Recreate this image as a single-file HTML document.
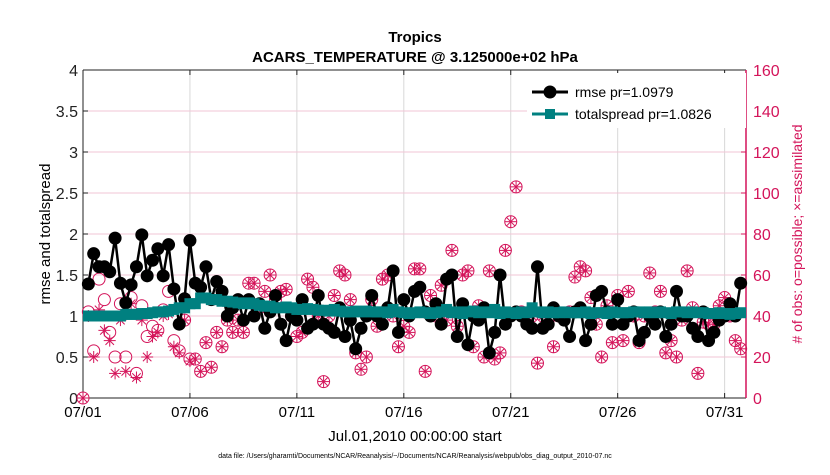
<!DOCTYPE html>
<html><head><meta charset="utf-8"><style>
body{margin:0;background:#fff;font-family:"Liberation Sans",sans-serif}
svg text{font-family:"Liberation Sans",sans-serif}
</style></head><body>
<svg id="chart" width="830" height="470" viewBox="0 0 830 470" xmlns="http://www.w3.org/2000/svg">
<text x="415" y="42" text-anchor="middle" font-size="15" font-weight="bold">Tropics</text>
<text x="415" y="62" text-anchor="middle" font-size="15" font-weight="bold">ACARS_TEMPERATURE @ 3.125000e+02 hPa</text>
<g id="grid"></g>
<g id="axes"></g>
<g id="series"></g>
<text transform="translate(50,234) rotate(-90)" text-anchor="middle" font-size="15">rmse and totalspread</text>
<text transform="translate(802,234) rotate(-90)" text-anchor="middle" font-size="14" fill="#d4145a">#  of obs: o=possible; ×=assimilated</text>
<text x="415" y="441" text-anchor="middle" font-size="15">Jul.01,2010 00:00:00 start</text>
<text x="415" y="458" text-anchor="middle" font-size="7">data file: /Users/gharamti/Documents/NCAR/Reanalysis/~/Documents/NCAR/Reanalysis/webpub/obs_diag_output_2010-07.nc</text>
<g>
<rect x="527" y="73" width="219" height="55" fill="#fff" stroke="none"/>
<line x1="532" y1="92" x2="568" y2="92" stroke="#000" stroke-width="3"/>
<circle cx="550" cy="92" r="6.5" fill="#000"/>
<text x="575" y="97" font-size="14">rmse pr=1.0979</text>
<line x1="532" y1="114" x2="568" y2="114" stroke="#008080" stroke-width="3"/>
<rect x="545" y="109" width="10" height="10" fill="#008080"/>
<text x="575" y="119" font-size="14">totalspread pr=1.0826</text>
</g>
</svg>
<script>
const xTickLabels=["07/01","07/06","07/11","07/16","07/21","07/26","07/31"];
const xTickDays=[0,5,10,15,20,25,30];
const yTicks=[0,0.5,1,1.5,2,2.5,3,3.5,4];
const yTickLabels=["0","0.5","1","1.5","2","2.5","3","3.5","4"];
const y2Ticks=[0,20,40,60,80,100,120,140,160];
const rmse=[NaN,1.39,1.76,1.6,1.6,1.54,1.95,1.4,1.16,1.38,1.6,1.99,1.49,1.68,1.82,1.49,1.87,1.33,0.9,1.21,1.92,1.4,1.35,1.6,1.2,1.42,1.3,1.0,
1.1,1.2,0.95,1.2,1.0,1.15,0.85,1.05,1.25,0.9,0.7,1.0,0.95,1.2,0.85,0.9,1.25,0.9,0.85,0.8,1.1,0.75,0.95,0.6,0.85,1.0,1.25,1.0,
0.9,1.1,1.55,0.8,1.2,1.0,1.3,1.35,1.05,1.0,1.15,0.9,1.45,1.5,0.75,1.15,0.65,1.0,0.95,1.1,0.55,0.8,1.5,0.9,1.0,1.05,1.0,0.9,
0.85,1.6,0.85,0.9,1.1,1.0,0.95,0.75,1.05,1.1,0.7,0.9,1.25,1.3,1.05,0.9,1.2,0.9,1.0,1.05,0.7,0.8,1.0,0.9,1.05,0.75,0.9,1.3,
1.0,1.0,0.85,0.75,1.05,0.7,0.8,0.95,1.0,1.15,1.0,1.4];
const totalspread=[NaN,1.0,1.0,1.0,1.0,1.0,1.0,1.0,1.02,1.02,1.02,1.03,1.03,1.04,1.05,1.05,1.06,1.08,1.1,1.1,
1.15,1.15,1.22,1.22,1.2,1.2,1.18,1.18,
1.17,1.16,1.15,1.16,1.15,1.13,1.12,1.12,1.1,1.1,1.11,1.1,1.08,1.08,1.09,1.08,1.07,1.07,1.06,1.08,1.06,1.05,1.05,1.06,1.05,1.06,1.05,1.05,
1.05,1.04,1.08,1.05,1.04,1.03,1.04,1.05,1.04,1.03,1.04,1.05,1.08,1.04,1.05,1.03,1.05,1.06,1.04,1.05,1.04,1.08,1.03,1.05,1.04,1.03,1.05,1.04,
1.1,1.05,1.04,1.05,1.04,1.04,1.05,1.04,1.04,1.04,1.05,1.03,1.04,1.04,1.03,1.05,1.04,1.04,1.04,1.05,1.05,1.04,1.05,1.04,1.05,1.04,1.03,1.05,
1.05,1.04,1.05,1.04,1.04,1.03,1.03,1.04,1.03,1.02,1.03,1.04];
const possibleObs=[0,42,23,58,48,32,20,46,20,49,12,45,30,35,33,43,52,28,23,38,19,19,13,27,15,32,25,38,32,38,32,56,
56,44,52,60,48,52,53,40,30,32,58,54,40,8,40,50,62,60,48,22,14,20,48,35,
58,60,40,25,35,32,63,63,13,50,40,55,38,72,35,60,62,25,45,20,62,19,22,72,86,103,42,40,
40,17,40,38,25,40,40,42,59,64,62,49,36,20,45,27,50,28,52,40,27,40,61,42,52,22,28,20,
38,62,44,12,37,36,36,45,49,40,28,24];
const assimilatedObs=[0,40,20,43,33,28,12,38,13,46,10,38,20,30,32,40,41,25,22,38,18,19,13,27,15,32,25,38,32,38,32,56,
56,44,52,60,48,52,53,40,30,32,58,54,40,8,40,50,62,60,48,22,14,20,48,35,
58,60,40,25,35,32,63,63,13,50,40,55,38,72,35,60,62,25,45,20,62,19,22,72,86,103,42,40,
40,17,40,38,25,40,40,42,59,64,62,49,36,20,45,27,50,28,52,40,27,40,61,42,52,22,28,20,
38,62,44,12,37,36,36,45,49,40,28,24];

const NS="http://www.w3.org/2000/svg";
const X0=83,X1=746,Y0=398,Y1=70;
const xs=d=>X0+(X1-X0)*d/31;
const ys=v=>Y0-(Y0-Y1)*v/4;
const y2s=v=>Y0-(Y0-Y1)*v/160;
const tOf=i=>i*0.25;
const MAG="#d4145a";
function mk(tag,attrs,parent){const e=document.createElementNS(NS,tag);for(const k in attrs)e.setAttribute(k,attrs[k]);parent.appendChild(e);return e;}
const grid=document.getElementById('grid'),axes=document.getElementById('axes'),ser=document.getElementById('series');
mk('rect',{x:X0,y:Y1,width:X1-X0,height:Y0-Y1,fill:'#fff'},grid);
xTickDays.forEach((d,i)=>{
 const g=mk('line',{x1:xs(d),x2:xs(d),y1:Y1,y2:Y0,stroke:'#d8d8d8','stroke-width':1},grid);
 
 
 mk('line',{x1:xs(d),x2:xs(d),y1:Y0,y2:Y0-5,stroke:'#222'},axes);
 mk('line',{x1:xs(d),x2:xs(d),y1:Y1,y2:Y1+5,stroke:'#222'},axes);
 const t=mk('text',{x:xs(d),y:Y0+19,'text-anchor':'middle','font-size':15},axes);
 t.textContent=xTickLabels[i];
 
 
});
y2Ticks.forEach(v=>{
 if(v>0&&v<160){const g=mk('line',{x1:X0,x2:X1,y1:y2s(v),y2:y2s(v),stroke:'#f2c6d6','stroke-width':1},grid);
 
 }
 mk('line',{x1:X1,x2:X1-5,y1:y2s(v),y2:y2s(v),stroke:MAG},axes);
 const t=mk('text',{x:X1+7,y:y2s(v)+6,'font-size':16,fill:MAG},axes);
 t.textContent=String(v);
 
 
});
yTicks.forEach((v,i)=>{
 mk('line',{x1:X0,x2:X0+5,y1:ys(v),y2:ys(v),stroke:'#222'},axes);
 const t=mk('text',{x:X0-5,y:ys(v)+6,'text-anchor':'end','font-size':16,fill:'#222'},axes);
 t.textContent=yTickLabels[i];
 
 
});
mk('line',{x1:X0,x2:X0,y1:Y1,y2:Y0,stroke:'#222'},axes);
mk('line',{x1:X0,x2:X1,y1:Y0,y2:Y0,stroke:'#222'},axes);
mk('line',{x1:X0,x2:X1,y1:Y1,y2:Y1,stroke:'#222'},axes);
mk('line',{x1:X1,x2:X1,y1:Y1,y2:Y0,stroke:MAG,'stroke-width':1.5},axes);

function path(arr,sc){let d='',pen=false;arr.forEach((v,i)=>{if(isNaN(v)){pen=false;return;}d+=(pen?'L':'M')+xs(tOf(i)).toFixed(1)+','+sc(v).toFixed(1);pen=true;});return d;}
possibleObs.forEach((v,i)=>{
 const c=mk('circle',{cx:xs(tOf(i)),cy:y2s(v),r:6,fill:'none',stroke:MAG,'stroke-width':1},ser);
 
 
});
assimilatedObs.forEach((v,i)=>{
 const cx=xs(tOf(i)),cy=y2s(v),r=6;
 const g=mk('g',{stroke:MAG,'stroke-width':1},ser);
 
 
 [0,45,90,135].forEach(a=>{const rad=a*Math.PI/180;mk('line',{x1:cx-r*Math.cos(rad),y1:cy-r*Math.sin(rad),x2:cx+r*Math.cos(rad),y2:cy+r*Math.sin(rad)},g);});
});
const rl=mk('path',{d:path(rmse,ys),fill:'none',stroke:'#000','stroke-width':2.5},ser);


rmse.forEach((v,i)=>{if(isNaN(v))return;
 const c=mk('circle',{cx:xs(tOf(i)),cy:ys(v),r:6.5,fill:'#000'},ser);
 
 
});
const tl=mk('path',{d:path(totalspread,ys),fill:'none',stroke:'#008080','stroke-width':4},ser);


totalspread.forEach((v,i)=>{if(isNaN(v))return;
 const r=mk('rect',{x:xs(tOf(i))-5.5,y:ys(v)-5.5,width:11,height:11,fill:'#008080'},ser);
 
 
});
</script>
</body></html>
